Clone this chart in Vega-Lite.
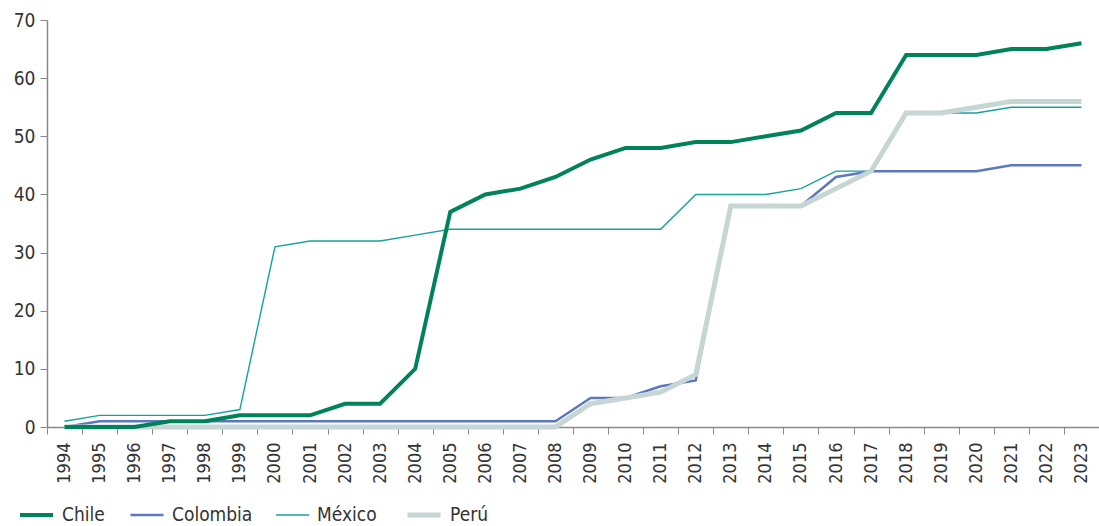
{
  "$schema": "https://vega.github.io/schema/vega-lite/v6.json",
  "width": 1052,
  "height": 407,
  "autosize": {"type": "none"},
  "padding": {"left": 47, "top": 20, "right": 0, "bottom": 99},
  "background": "white",
  "config": {
    "view": {"stroke": null},
    "font": "Liberation Sans Narrow, DejaVu Sans Condensed, Roboto, sans-serif",
    "axis": {"labelFont": "Liberation Sans Narrow, DejaVu Sans Condensed, Roboto, sans-serif", "labelColor": "#333333", "domainColor": "#888888", "tickColor": "#888888", "grid": false, "title": null},
    "legend": {"labelFont": "Liberation Sans Narrow, DejaVu Sans Condensed, Roboto, sans-serif"}
  },
  "data": {
    "values": [
      {"country": "Colombia", "year": 1994, "value": 0},
      {"country": "Colombia", "year": 1995, "value": 1},
      {"country": "Colombia", "year": 1996, "value": 1},
      {"country": "Colombia", "year": 1997, "value": 1},
      {"country": "Colombia", "year": 1998, "value": 1},
      {"country": "Colombia", "year": 1999, "value": 1},
      {"country": "Colombia", "year": 2000, "value": 1},
      {"country": "Colombia", "year": 2001, "value": 1},
      {"country": "Colombia", "year": 2002, "value": 1},
      {"country": "Colombia", "year": 2003, "value": 1},
      {"country": "Colombia", "year": 2004, "value": 1},
      {"country": "Colombia", "year": 2005, "value": 1},
      {"country": "Colombia", "year": 2006, "value": 1},
      {"country": "Colombia", "year": 2007, "value": 1},
      {"country": "Colombia", "year": 2008, "value": 1},
      {"country": "Colombia", "year": 2009, "value": 5},
      {"country": "Colombia", "year": 2010, "value": 5},
      {"country": "Colombia", "year": 2011, "value": 7},
      {"country": "Colombia", "year": 2012, "value": 8},
      {"country": "Colombia", "year": 2013, "value": 38},
      {"country": "Colombia", "year": 2014, "value": 38},
      {"country": "Colombia", "year": 2015, "value": 38},
      {"country": "Colombia", "year": 2016, "value": 43},
      {"country": "Colombia", "year": 2017, "value": 44},
      {"country": "Colombia", "year": 2018, "value": 44},
      {"country": "Colombia", "year": 2019, "value": 44},
      {"country": "Colombia", "year": 2020, "value": 44},
      {"country": "Colombia", "year": 2021, "value": 45},
      {"country": "Colombia", "year": 2022, "value": 45},
      {"country": "Colombia", "year": 2023, "value": 45},
      {"country": "México", "year": 1994, "value": 1},
      {"country": "México", "year": 1995, "value": 2},
      {"country": "México", "year": 1996, "value": 2},
      {"country": "México", "year": 1997, "value": 2},
      {"country": "México", "year": 1998, "value": 2},
      {"country": "México", "year": 1999, "value": 3},
      {"country": "México", "year": 2000, "value": 31},
      {"country": "México", "year": 2001, "value": 32},
      {"country": "México", "year": 2002, "value": 32},
      {"country": "México", "year": 2003, "value": 32},
      {"country": "México", "year": 2004, "value": 33},
      {"country": "México", "year": 2005, "value": 34},
      {"country": "México", "year": 2006, "value": 34},
      {"country": "México", "year": 2007, "value": 34},
      {"country": "México", "year": 2008, "value": 34},
      {"country": "México", "year": 2009, "value": 34},
      {"country": "México", "year": 2010, "value": 34},
      {"country": "México", "year": 2011, "value": 34},
      {"country": "México", "year": 2012, "value": 40},
      {"country": "México", "year": 2013, "value": 40},
      {"country": "México", "year": 2014, "value": 40},
      {"country": "México", "year": 2015, "value": 41},
      {"country": "México", "year": 2016, "value": 44},
      {"country": "México", "year": 2017, "value": 44},
      {"country": "México", "year": 2018, "value": 54},
      {"country": "México", "year": 2019, "value": 54},
      {"country": "México", "year": 2020, "value": 54},
      {"country": "México", "year": 2021, "value": 55},
      {"country": "México", "year": 2022, "value": 55},
      {"country": "México", "year": 2023, "value": 55},
      {"country": "Perú", "year": 1994, "value": 0},
      {"country": "Perú", "year": 1995, "value": 0},
      {"country": "Perú", "year": 1996, "value": 0},
      {"country": "Perú", "year": 1997, "value": 0},
      {"country": "Perú", "year": 1998, "value": 0},
      {"country": "Perú", "year": 1999, "value": 0},
      {"country": "Perú", "year": 2000, "value": 0},
      {"country": "Perú", "year": 2001, "value": 0},
      {"country": "Perú", "year": 2002, "value": 0},
      {"country": "Perú", "year": 2003, "value": 0},
      {"country": "Perú", "year": 2004, "value": 0},
      {"country": "Perú", "year": 2005, "value": 0},
      {"country": "Perú", "year": 2006, "value": 0},
      {"country": "Perú", "year": 2007, "value": 0},
      {"country": "Perú", "year": 2008, "value": 0},
      {"country": "Perú", "year": 2009, "value": 4},
      {"country": "Perú", "year": 2010, "value": 5},
      {"country": "Perú", "year": 2011, "value": 6},
      {"country": "Perú", "year": 2012, "value": 9},
      {"country": "Perú", "year": 2013, "value": 38},
      {"country": "Perú", "year": 2014, "value": 38},
      {"country": "Perú", "year": 2015, "value": 38},
      {"country": "Perú", "year": 2016, "value": 41},
      {"country": "Perú", "year": 2017, "value": 44},
      {"country": "Perú", "year": 2018, "value": 54},
      {"country": "Perú", "year": 2019, "value": 54},
      {"country": "Perú", "year": 2020, "value": 55},
      {"country": "Perú", "year": 2021, "value": 56},
      {"country": "Perú", "year": 2022, "value": 56},
      {"country": "Perú", "year": 2023, "value": 56},
      {"country": "Chile", "year": 1994, "value": 0},
      {"country": "Chile", "year": 1995, "value": 0},
      {"country": "Chile", "year": 1996, "value": 0},
      {"country": "Chile", "year": 1997, "value": 1},
      {"country": "Chile", "year": 1998, "value": 1},
      {"country": "Chile", "year": 1999, "value": 2},
      {"country": "Chile", "year": 2000, "value": 2},
      {"country": "Chile", "year": 2001, "value": 2},
      {"country": "Chile", "year": 2002, "value": 4},
      {"country": "Chile", "year": 2003, "value": 4},
      {"country": "Chile", "year": 2004, "value": 10},
      {"country": "Chile", "year": 2005, "value": 37},
      {"country": "Chile", "year": 2006, "value": 40},
      {"country": "Chile", "year": 2007, "value": 41},
      {"country": "Chile", "year": 2008, "value": 43},
      {"country": "Chile", "year": 2009, "value": 46},
      {"country": "Chile", "year": 2010, "value": 48},
      {"country": "Chile", "year": 2011, "value": 48},
      {"country": "Chile", "year": 2012, "value": 49},
      {"country": "Chile", "year": 2013, "value": 49},
      {"country": "Chile", "year": 2014, "value": 50},
      {"country": "Chile", "year": 2015, "value": 51},
      {"country": "Chile", "year": 2016, "value": 54},
      {"country": "Chile", "year": 2017, "value": 54},
      {"country": "Chile", "year": 2018, "value": 64},
      {"country": "Chile", "year": 2019, "value": 64},
      {"country": "Chile", "year": 2020, "value": 64},
      {"country": "Chile", "year": 2021, "value": 65},
      {"country": "Chile", "year": 2022, "value": 65},
      {"country": "Chile", "year": 2023, "value": 66}
    ]
  },
  "mark": {"type": "line", "strokeJoin": "miter", "strokeCap": "butt"},
  "encoding": {
    "x": {
      "field": "year",
      "type": "ordinal",
      "bandPosition": 0.5,
      "scale": {"type": "band", "paddingInner": 0, "paddingOuter": 0},
      "axis": {
        "tickBand": "extent",
        "labelAngle": 270,
        "labelFontSize": 18,
        "tickSize": 7,
        "labelPadding": 8,
        "domainWidth": 1.5
      }
    },
    "y": {
      "field": "value",
      "type": "quantitative",
      "scale": {"domain": [0, 70], "nice": false},
      "axis": {
        "values": [0, 10, 20, 30, 40, 50, 60, 70],
        "labelFontSize": 19,
        "tickSize": 7,
        "labelPadding": 5,
        "domainWidth": 1.5
      }
    },
    "color": {
      "field": "country",
      "type": "nominal",
      "scale": {"domain": ["Chile", "Colombia", "México", "Perú"], "range": ["#00835A", "#5B78C0", "#16A29C", "#C6D6D4"]},
      "legend": {
        "title": null,
        "orient": "none",
        "legendX": -29,
        "legendY": 483,
        "direction": "horizontal",
        "symbolType": "stroke",
        "symbolSize": 1089,
        "labelFontSize": 19,
        "labelColor": "#333333",
        "columnPadding": 20,
        "labelOffset": 7,
        "encode": {
          "symbols": {"update": {"y": {"value": 12}}},
          "labels": {"update": {"y": {"value": 12}}}
        }
      }
    },
    "strokeWidth": {
      "field": "country",
      "type": "nominal",
      "scale": {"type": "ordinal", "domain": ["Chile", "Colombia", "México", "Perú"], "range": [4, 2.5, 1.4, 5]},
      "legend": {
        "title": null,
        "orient": "none",
        "legendX": -29,
        "legendY": 483,
        "direction": "horizontal",
        "symbolType": "stroke",
        "symbolSize": 1089,
        "labelFontSize": 19,
        "labelColor": "#333333",
        "columnPadding": 20,
        "labelOffset": 7,
        "encode": {
          "symbols": {"update": {"y": {"value": 12}}},
          "labels": {"update": {"y": {"value": 12}}}
        }
      }
    }
  }
}
